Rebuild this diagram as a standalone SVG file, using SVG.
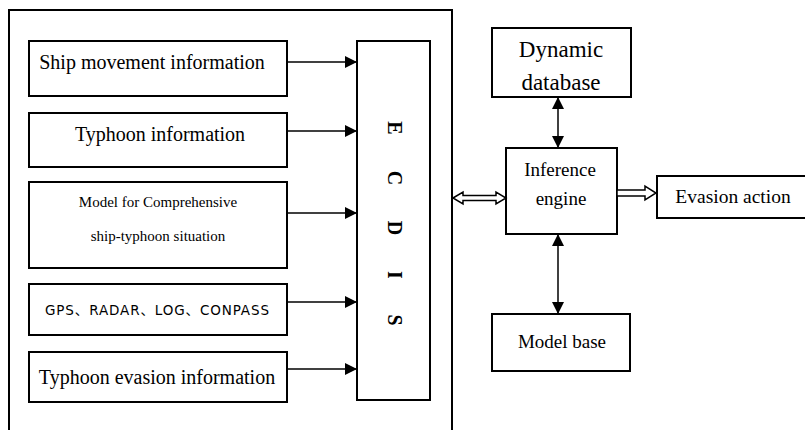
<svg xmlns="http://www.w3.org/2000/svg" width="805" height="430" viewBox="0 0 805 430">
<style>
.box{fill:#fff;stroke:#000;stroke-width:2}
.t{font-family:"Liberation Serif","Times New Roman","DejaVu Serif",serif;fill:#000;text-anchor:middle}
.g{font-family:"DejaVu Sans","Noto Sans CJK SC",sans-serif;fill:#000;text-anchor:middle}
.ln{stroke:#000;stroke-width:1.5;fill:none}
.hol{fill:#fff;stroke:#000;stroke-width:1.5}
</style>
<defs>
<marker id="ah2" viewBox="0 0 10 10" refX="10" refY="5" markerWidth="14" markerHeight="12" markerUnits="userSpaceOnUse" orient="auto-start-reverse"><path d="M0,0 L10,5 L0,10 z" fill="#000"/></marker>
</defs>
<rect width="805" height="430" fill="#fff"/>
<g id="outer"><rect class="box" x="9" y="10" width="443" height="430"/></g>
<g id="ship"><rect class="box" x="29" y="41" width="258" height="55"/><text class="t" x="152" y="69" font-size="20">Ship movement information</text></g>
<g id="typhoon"><rect class="box" x="29" y="113" width="258" height="54"/><text class="t" x="160" y="141" font-size="20">Typhoon information</text></g>
<g id="model"><rect class="box" x="29" y="182" width="258" height="86"/><text class="t" x="158" y="207" font-size="15">Model for Comprehensive</text><text class="t" x="158" y="241" font-size="15">ship-typhoon situation</text></g>
<g id="gps"><rect class="box" x="29" y="284" width="258" height="51"/><text class="g" x="157" y="315" font-size="13.5" textLength="224">GPS、RADAR、LOG、CONPASS</text></g>
<g id="evasioninfo"><rect class="box" x="29" y="352" width="258" height="50"/><text class="t" x="157" y="384" font-size="20">Typhoon evasion information</text></g>
<g id="ecdis"><rect class="box" x="357" y="41" width="73" height="359"/>
<text class="t" font-size="20" font-weight="bold" transform="translate(388,128) rotate(90)">E</text>
<text class="t" font-size="20" font-weight="bold" transform="translate(388,178) rotate(90)">C</text>
<text class="t" font-size="20" font-weight="bold" transform="translate(388,228) rotate(90)">D</text>
<text class="t" font-size="20" font-weight="bold" transform="translate(388,275) rotate(90)">I</text>
<text class="t" font-size="20" font-weight="bold" transform="translate(388,320) rotate(90)">S</text>
</g>
<g id="dyn"><rect class="box" x="492" y="28" width="139" height="69"/><text class="t" x="561" y="57" font-size="23">Dynamic</text><text class="t" x="561" y="90" font-size="23">database</text></g>
<g id="inf"><rect class="box" x="506" y="148" width="111" height="86"/><text class="t" x="560" y="176" font-size="19">Inference</text><text class="t" x="561" y="205" font-size="19">engine</text></g>
<g id="evasion"><rect class="box" x="657" y="176" width="150" height="42"/><text class="t" x="733" y="203" font-size="19.5">Evasion action</text></g>
<g id="modelbase"><rect class="box" x="492" y="314" width="138" height="57"/><text class="t" x="562" y="348" font-size="19">Model base</text></g>
<g id="connectors">
<line class="ln" x1="287" y1="62" x2="357" y2="62" stroke-width="2" marker-end="url(#ah2)"/>
<line class="ln" x1="287" y1="131" x2="357" y2="131" stroke-width="1" marker-end="url(#ah2)"/>
<line class="ln" x1="287" y1="213" x2="357" y2="213" marker-end="url(#ah2)"/>
<line class="ln" x1="287" y1="302" x2="357" y2="302" stroke-width="1" marker-end="url(#ah2)"/>
<line class="ln" x1="287" y1="369" x2="357" y2="369" stroke-width="1" marker-end="url(#ah2)"/>
<line class="ln" x1="558" y1="97" x2="558" y2="148" stroke-width="2" marker-start="url(#ah2)" marker-end="url(#ah2)"/>
<line class="ln" x1="558" y1="234" x2="558" y2="314" stroke-width="2" marker-start="url(#ah2)" marker-end="url(#ah2)"/>
<path class="hol" d="M453,198 L463,192 L463,195.5 L496,195.5 L496,192 L506,198 L496,204 L496,200.5 L463,200.5 L463,204 Z"/>
<path class="hol" d="M617,190 L645,190 L645,186 L656,193 L645,200 L645,196 L617,196 Z"/>
</g>
</svg>
